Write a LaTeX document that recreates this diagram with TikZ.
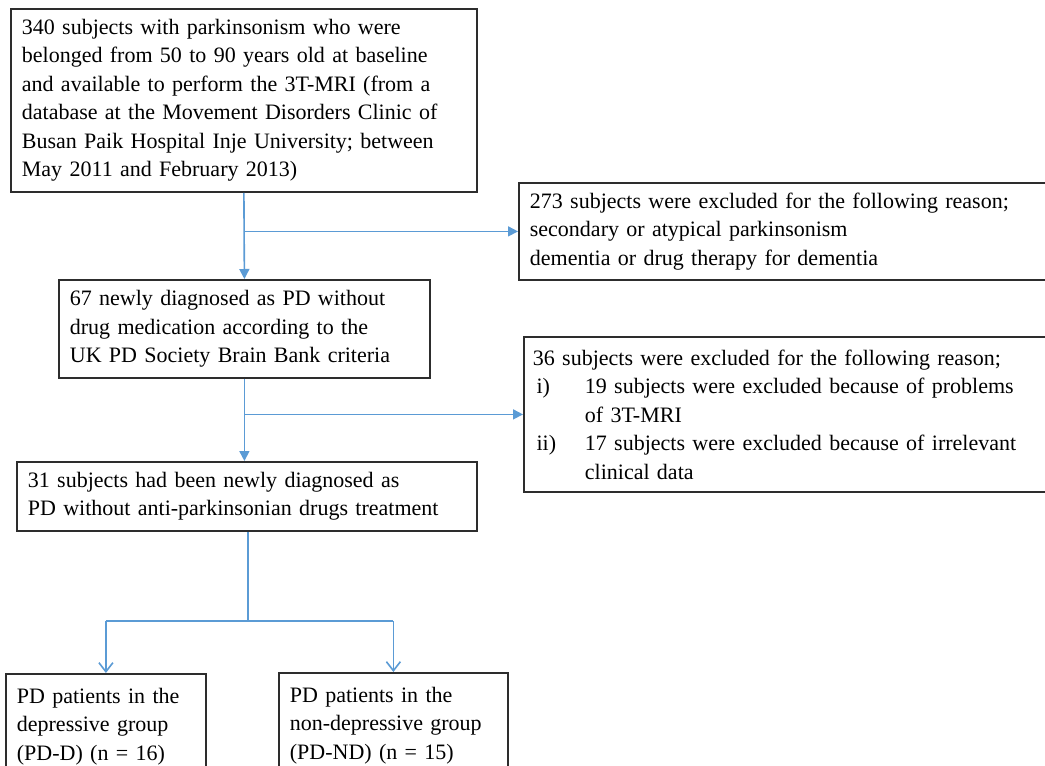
\documentclass[tikz,border=0pt]{standalone}
\usepackage{fontspec}
\setmainfont{Liberation Serif}
\usetikzlibrary{arrows.meta}
\definecolor{arrowblue}{RGB}{91,155,213}
\definecolor{boxline}{RGB}{45,45,45}
\tikzset{
  box/.style={draw=boxline, line width=1.8pt, anchor=north west, align=left,
    inner xsep=11pt, inner ysep=0pt, font=\fontsize{22}{28.5}\selectfont},
  flow/.style={draw=arrowblue, line width=1.6pt, -{Triangle[length=10pt,width=10pt]}},
  flowopen/.style={draw=arrowblue, line width=1.6pt, -{Straight Barb[length=9pt,width=14pt]}},
  plain/.style={draw=arrowblue, line width=1.6pt}
}
\begin{document}
\begin{tikzpicture}[x=1pt,y=-1pt]
\useasboundingbox[fill=white] (0,0) rectangle (1045,766);
\node[box, text width=444pt, minimum height=183pt] (b1) at (10,8)
 {340 subjects with parkinsonism who were\\belonged from 50 to 90 years old at baseline\\and available to perform the 3T-MRI (from a\\database at the Movement Disorders Clinic of\\Busan Paik Hospital Inje University; between\\May 2011 and February 2013)};
\node[box, text width=510pt, minimum height=97pt] (b2) at (518,182)
 {273 subjects were excluded for the following reason;\\secondary or atypical parkinsonism\\dementia or drug therapy for dementia};
\node[box, text width=349pt, minimum height=98pt] (b3) at (58,279)
 {67 newly diagnosed as PD without\\drug medication according to the\\UK PD Society Brain Bank criteria};
\node[box, text width=510pt, minimum height=155pt, inner xsep=9pt] (b4) at (523,336)
 {36 subjects were excluded for the following reason;\\\makebox[52pt][l]{\,i)}19 subjects were excluded because of problems\\\hspace*{52pt}of 3T-MRI\\\makebox[52pt][l]{\,ii)}17 subjects were excluded because of irrelevant\\\hspace*{52pt}clinical data};
\node[box, text width=438pt, minimum height=69pt] (b5) at (16,461)
 {31 subjects had been newly diagnosed as\\PD without anti-parkinsonian drugs treatment};
\node[box, text width=178pt, minimum height=105pt] (b6) at (5,673)
 {PD patients in the\\depressive group\\(PD-D) (n = 16)\\[12pt]};
\node[box, text width=207pt, minimum height=105pt] (b7) at (278,672)
 {PD patients in the\\non-depressive group\\(PD-ND) (n = 15)\\[12pt]};
% connectors
\draw[flow] (b1.south) -- (b3.north);
\coordinate (j1) at (b2.west -| b1.south);
\draw[flow] (j1) -- (b2.west);
\draw[flow] (b3.south) -- (b3.south |- b5.north);
\coordinate (j2) at (b4.west -| b3.south);
\draw[flow] (j2) -- (b4.west);
\coordinate (s5) at ([xshift=1pt]b5.south);
\coordinate (j3) at (s5 |- 0,621);
\coordinate (l3) at (b6.north |- j3);
\coordinate (r3) at (b7.north |- j3);
\draw[plain] (s5) -- (j3);
\draw[plain] (l3) -- (r3);
\draw[flowopen] (l3) -- (b6.north);
\draw[flowopen] (r3) -- (b7.north);
\end{tikzpicture}
\end{document}
